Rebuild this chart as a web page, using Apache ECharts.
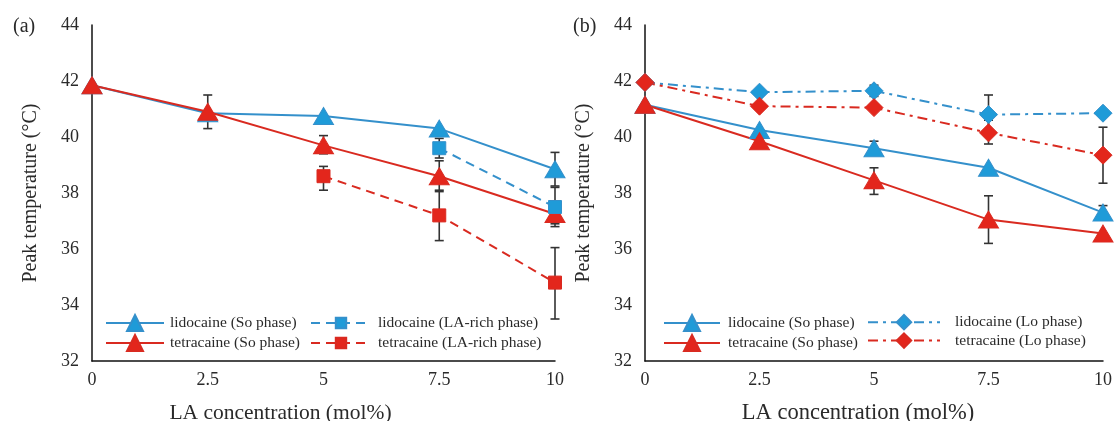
<!DOCTYPE html>
<html>
<head>
<meta charset="utf-8">
<script src="https://cdn.jsdelivr.net/npm/echarts@6/dist/echarts.min.js"></script>
<style>
html,body{margin:0;padding:0;background:#fff;}
#c{width:1118px;height:421px;}
</style>
</head>
<body>
<div id="c"></div>
<script>
// ---- data ----
var xTicks = [0, 2.5, 5, 7.5, 10];
var yTicks = [32, 34, 36, 38, 40, 42, 44];

// panel (a)
var aLidoSo = [[0, 41.85], [2.5, 40.85], [5, 40.75], [7.5, 40.3], [10, 38.85]];
var aTetraSo = [[0, 41.85], [2.5, 40.9], [5, 39.7], [7.5, 38.6], [10, 37.25]];
var aLidoLA = [[7.5, 39.6], [10, 37.5]];
var aTetraLA = [[5, 38.6], [7.5, 37.2], [10, 34.8]];
// error bars: [x, low, high]
var aErr = [
  [2.5, 40.3, 41.5],
  [5, 39.4, 40.05],
  [5, 38.1, 38.95],
  [7.5, 39.25, 39.95],
  [7.5, 38.05, 39.15],
  [7.5, 36.3, 38.1],
  [10, 38.25, 39.45],
  [10, 36.8, 38.2],
  [10, 36.9, 37.6],
  [10, 33.5, 36.05]
];

// panel (b)
var bLidoSo = [[0, 41.15], [2.5, 40.25], [5, 39.6], [7.5, 38.9], [10, 37.3]];
var bTetraSo = [[0, 41.15], [2.5, 39.85], [5, 38.45], [7.5, 37.05], [10, 36.55]];
var bLidoLo = [[0, 41.95], [2.5, 41.6], [5, 41.65], [7.5, 40.8], [10, 40.85]];
var bTetraLo = [[0, 41.95], [2.5, 41.1], [5, 41.05], [7.5, 40.15], [10, 39.35]];
var bErr = [
  [5, 41.45, 41.85],
  [5, 39.4, 39.85],
  [5, 37.95, 38.9],
  [7.5, 40.1, 41.5],
  [7.5, 39.75, 40.6],
  [7.5, 36.2, 37.9],
  [10, 38.35, 40.35],
  [10, 37.1, 37.55]
];

var names = {
  lidoSo: 'lidocaine (So phase)',
  tetraSo: 'tetracaine (So phase)',
  lidoLA: 'lidocaine (LA-rich phase)',
  tetraLA: 'tetracaine (LA-rich phase)',
  lidoLo: 'lidocaine (Lo phase)',
  tetraLo: 'tetracaine (Lo phase)'
};

// ---- styling ----
var BLUE = '#3490cb', BLUE_M = '#1f9bd8';
var RED = '#d92a20', RED_M = '#e3261c';
var FONT = 'Liberation Serif';
var TXT = '#2a2a2a';

function xAxis(gi, padRight, nameSize) {
  return {
    type: 'value', gridIndex: gi, min: 0, max: 10, interval: 2.5,
    axisLine: {lineStyle: {color: '#111', width: 1.5}},
    axisTick: {show: false}, splitLine: {show: false},
    axisLabel: {fontFamily: FONT, fontSize: 18, color: TXT, margin: 10},
    name: 'LA concentration (mol%)', nameLocation: 'middle', nameGap: 41,
    nameTextStyle: {fontFamily: FONT, fontSize: nameSize, color: TXT, padding: [0, padRight, 0, 0]}
  };
}
function yAxis(gi) {
  return {
    type: 'value', gridIndex: gi, min: 32, max: 44, interval: 2,
    axisLine: {show: true, lineStyle: {color: '#111', width: 1.5}},
    axisTick: {show: false}, splitLine: {show: false},
    axisLabel: {fontFamily: FONT, fontSize: 18, color: TXT, margin: 13},
    name: 'Peak temperature (°C)', nameLocation: 'middle', nameGap: 51,
    nameTextStyle: {fontFamily: FONT, fontSize: 20, color: TXT}
  };
}

function errSeries(gi, data) {
  return {
    type: 'custom', xAxisIndex: gi, yAxisIndex: gi, data: data, z: 1,
    encode: {x: 0, y: [1, 2]}, silent: true,
    renderItem: function (params, api) {
      var x = api.value(0), lo = api.value(1), hi = api.value(2);
      var p1 = api.coord([x, hi]), p2 = api.coord([x, lo]);
      var w = 4.5;
      var st = {stroke: '#333', lineWidth: 1.6};
      return {type: 'group', children: [
        {type: 'line', shape: {x1: p1[0], y1: p1[1], x2: p2[0], y2: p2[1]}, style: st},
        {type: 'line', shape: {x1: p1[0] - w, y1: p1[1], x2: p1[0] + w, y2: p1[1]}, style: st},
        {type: 'line', shape: {x1: p2[0] - w, y1: p2[1], x2: p2[0] + w, y2: p2[1]}, style: st}
      ]};
    }
  };
}

function lineSeries(gi, name, data, color, mcolor, symbol, size, dash) {
  return {
    type: 'line', name: name, xAxisIndex: gi, yAxisIndex: gi, data: data, z: 3,
    symbol: symbol, symbolSize: size, showAllSymbol: true,
    lineStyle: {color: color, width: 2, type: dash},
    itemStyle: {color: mcolor, borderColor: color, borderWidth: 1},
    emphasis: {disabled: true}, animation: false
  };
}

function legend(left, items, itemWidth, textPad, itemH, top, gap) {
  return {
    orient: 'vertical', left: left, top: top, itemGap: gap, padding: 0,
    itemWidth: itemWidth, itemHeight: itemH, data: items,
    textStyle: {fontFamily: FONT, fontSize: 15.5, lineHeight: 16, color: TXT, padding: [0, 0, 0, textPad]},
    selectedMode: false
  };
}

var option = {
  backgroundColor: '#ffffff',
  animation: false,
  title: [
    {text: '(a)', left: 8, top: 12, textStyle: {fontFamily: FONT, fontSize: 20, fontWeight: 'normal', color: TXT}},
    {text: '(b)', left: 568, top: 12, textStyle: {fontFamily: FONT, fontSize: 20, fontWeight: 'normal', color: TXT}}
  ],
  grid: [
    {left: 92, top: 25, width: 463, height: 336, outerBoundsMode: 'none', containLabel: false},
    {left: 645, top: 25, width: 458, height: 336, outerBoundsMode: 'none', containLabel: false}
  ],
  xAxis: [xAxis(0, 86, 21.5), xAxis(1, 32, 22.5)],
  yAxis: [yAxis(0), yAxis(1)],
  legend: [
    legend(105, [names.lidoSo, names.tetraSo], 58, 1, 20, 314, 2),
    legend(310, [names.lidoLA, names.tetraLA], 60, 2, 13, 315, 4),
    legend(663, [names.lidoSo, names.tetraSo], 56, 3, 20, 314, 2),
    legend(867, [names.lidoLo, names.tetraLo], 72, 10, 18, 314, 2)
  ],
  series: [
    errSeries(0, aErr),
    lineSeries(0, names.lidoSo, aLidoSo, BLUE, BLUE_M, 'triangle', [20, 17], 'solid'),
    lineSeries(0, names.tetraSo, aTetraSo, RED, RED_M, 'triangle', [20, 17], 'solid'),
    lineSeries(0, names.lidoLA, aLidoLA, BLUE, BLUE_M, 'rect', 13, [9, 6]),
    lineSeries(0, names.tetraLA, aTetraLA, RED, RED_M, 'rect', 13, [9, 6]),
    errSeries(1, bErr),
    lineSeries(1, names.lidoSo, bLidoSo, BLUE, BLUE_M, 'triangle', [20, 17], 'solid'),
    lineSeries(1, names.tetraSo, bTetraSo, RED, RED_M, 'triangle', [20, 17], 'solid'),
    lineSeries(1, names.lidoLo, bLidoLo, BLUE, BLUE_M, 'diamond', [18, 18], [10, 5, 3, 5]),
    lineSeries(1, names.tetraLo, bTetraLo, RED, RED_M, 'diamond', [18, 18], [10, 5, 3, 5])
  ]
};

var chart = echarts.init(document.getElementById('c'), null, {renderer: 'canvas'});
chart.setOption(option);
</script>
</body>
</html>
